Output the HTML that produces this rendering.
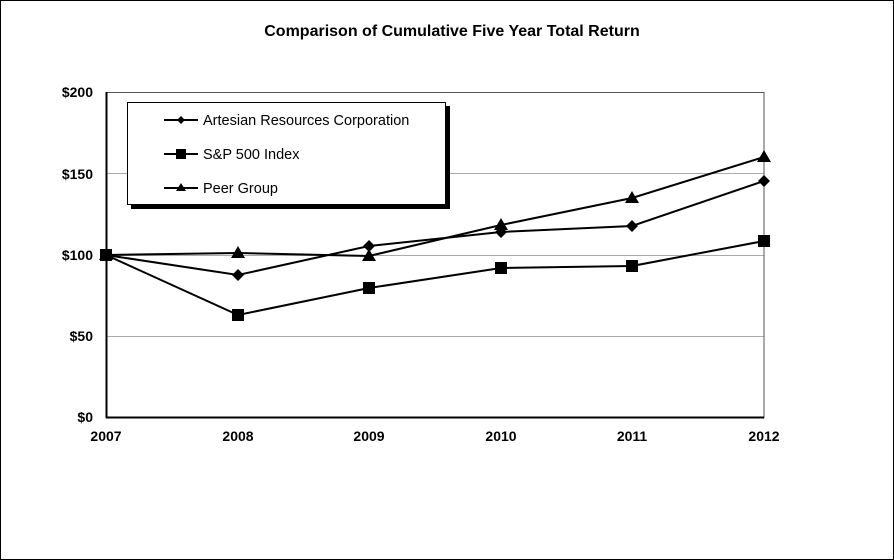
<!DOCTYPE html><html><head><style>body{margin:0}svg{display:block}</style></head><body>
<svg width="894" height="560" xmlns="http://www.w3.org/2000/svg" font-family="Liberation Sans, Arial, sans-serif">
<rect x="0.5" y="0.5" width="893" height="559" fill="#fff" stroke="#000"/>
<text x="452" y="36" text-anchor="middle" font-size="16" font-weight="bold">Comparison of Cumulative Five Year Total Return</text>
<g stroke="#aaa" stroke-width="1">
<line x1="106" y1="173.5" x2="764" y2="173.5"/><line x1="106" y1="255.5" x2="764" y2="255.5"/><line x1="106" y1="336.5" x2="764" y2="336.5"/></g>
<rect x="106.5" y="92.5" width="657.5" height="325" fill="none" stroke="#555"/>
<line x1="106" y1="417.5" x2="764" y2="417.5" stroke="#000" stroke-width="2"/>
<line x1="106.5" y1="92" x2="106.5" y2="418" stroke="#000" stroke-width="2"/>
<g font-size="14" font-weight="bold" text-anchor="end">
<text x="93" y="97">$200</text><text x="93" y="179">$150</text><text x="93" y="260">$100</text><text x="93" y="341">$50</text><text x="93" y="422">$0</text></g>
<g font-size="14" font-weight="bold" text-anchor="middle">
<text x="106" y="441">2007</text><text x="238" y="441">2008</text><text x="369" y="441">2009</text><text x="501" y="441">2010</text><text x="632" y="441">2011</text><text x="764" y="441">2012</text></g>
<g fill="none" stroke="#000" stroke-width="2">
<polyline points="106,255 238,275 369,246 501,232 632,226 764,181"/>
<polyline points="106,255 238,315 369,288 501,268 632,266 764,241"/>
<polyline points="106,255 238,253 369,256 501,225 632,198 764,157"/></g>
<g fill="#000">
<path d="M106,249l6,6-6,6-6-6zM238,269l6,6-6,6-6-6zM369,240l6,6-6,6-6-6zM501,226l6,6-6,6-6-6zM632,220l6,6-6,6-6-6zM764,175l6,6-6,6-6-6z"/>
<rect x="100" y="249" width="12" height="12"/><rect x="232" y="309" width="12" height="12"/><rect x="363" y="282" width="12" height="12"/><rect x="495" y="262" width="12" height="12"/><rect x="626" y="260" width="12" height="12"/><rect x="758" y="235" width="12" height="12"/>
<path d="M106,248l7,12h-14zM238,246l7,12h-14zM369,249l7,12h-14zM501,218l7,12h-14zM632,191l7,12h-14zM764,150l7,12h-14z"/></g>
<rect x="131" y="106" width="319" height="103" fill="#000"/>
<rect x="127.5" y="102.5" width="318" height="102" fill="#fff" stroke="#000"/>
<g stroke="#000" stroke-width="2"><line x1="164" y1="120" x2="198" y2="120"/><line x1="164" y1="154" x2="198" y2="154"/><line x1="164" y1="188" x2="198" y2="188"/></g>
<path d="M181,116l4,4-4,4-4-4z M176,149h10v10h-10z M181,183l5,8h-10z" fill="#000"/>
<g font-size="14.5"><text x="203" y="125">Artesian Resources Corporation</text><text x="203" y="159">S&amp;P 500 Index</text><text x="203" y="193">Peer Group</text></g>
</svg></body></html>
